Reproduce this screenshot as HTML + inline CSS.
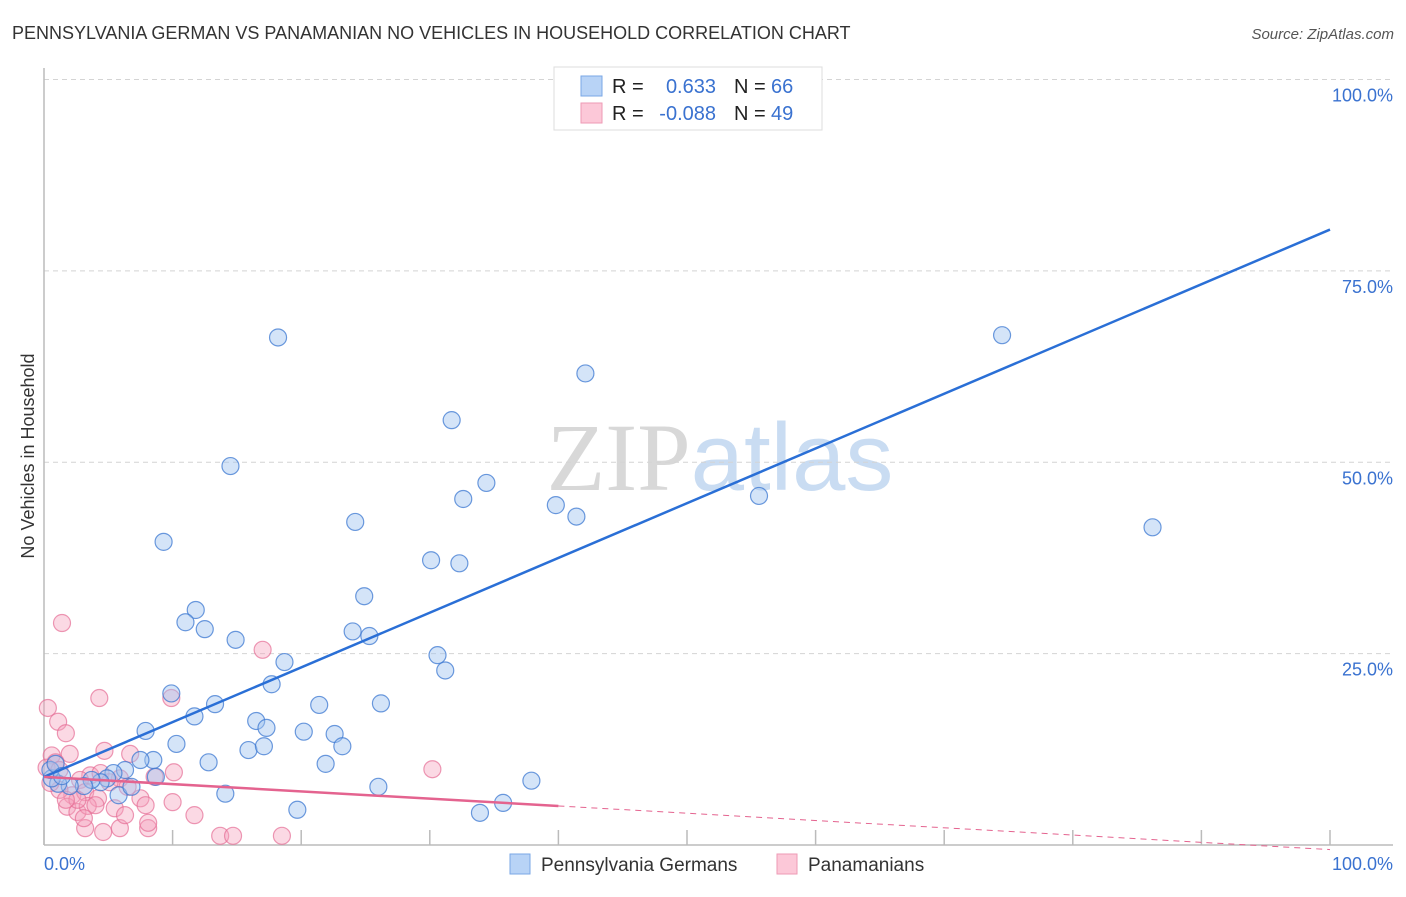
<!DOCTYPE html>
<html><head><meta charset="utf-8"><style>
body{margin:0;background:#fff;font-family:"Liberation Sans",sans-serif;}
svg text{font-family:"Liberation Sans",sans-serif;}
</style></head><body>
<svg id="chart" width="1406" height="892" xmlns="http://www.w3.org/2000/svg">
<text x="12" y="39" font-size="18" fill="#333">PENNSYLVANIA GERMAN VS PANAMANIAN NO VEHICLES IN HOUSEHOLD CORRELATION CHART</text>
<text x="1394" y="39" font-size="15" fill="#555" text-anchor="end" font-style="italic">Source: ZipAtlas.com</text>
<text x="720" y="490" font-size="96" text-anchor="middle"><tspan fill="#d8d8d8" font-family="Liberation Serif">ZIP</tspan><tspan fill="#c9dcf2">atlas</tspan></text>
<text transform="translate(34,456) rotate(-90)" font-size="18" fill="#333" text-anchor="middle">No Vehicles in Household</text>
<g id="grid"></g><g id="axes"></g><g id="pts"></g><g id="lines"></g>
<g>
<rect x="554" y="67" width="268" height="63" fill="#fff" stroke="#ddd"/>
<rect x="581" y="76" width="21" height="20" fill="#b8d3f6" stroke="#7aa7e6"/>
<rect x="581" y="103" width="21" height="20" fill="#fcc8d8" stroke="#ee9ab5"/>
<text x="612" y="93" font-size="20" fill="#222">R =</text>
<text x="716" y="93" font-size="20" fill="#3a72d0" text-anchor="end">0.633</text>
<text x="734" y="93" font-size="20" fill="#222">N =</text>
<text x="771" y="93" font-size="20" fill="#3a72d0">66</text>
<text x="612" y="120" font-size="20" fill="#222">R =</text>
<text x="716" y="120" font-size="20" fill="#3a72d0" text-anchor="end">-0.088</text>
<text x="734" y="120" font-size="20" fill="#222">N =</text>
<text x="771" y="120" font-size="20" fill="#3a72d0">49</text>
</g>
<g>
<rect x="510" y="854" width="20" height="20" fill="#b8d3f6" stroke="#7aa7e6"/>
<text x="541" y="871" font-size="19" fill="#333">Pennsylvania Germans</text>
<rect x="777" y="854" width="20" height="20" fill="#fcc8d8" stroke="#ee9ab5"/>
<text x="808" y="871" font-size="19" fill="#333">Panamanians</text>
</g>
</svg>
<script>
const blueX=[18.2,14.5,9.3,11.8,11.0,12.5,14.9,18.7,17.7,9.9,13.3,11.7,7.9,10.3,12.8,14.1,16.5,17.3,15.9,17.1,20.2,21.9,21.4,22.6,23.2,24.2,24.9,24.0,25.3,26.2,26.0,19.7,30.1,32.3,30.6,31.2,31.7,32.6,34.4,42.1,39.8,41.4,35.7,33.9,37.9,54.1,74.5,55.6,86.2,8.5,7.5,6.3,5.4,4.9,4.4,3.7,3.1,2.0,1.1,0.6,0.5,0.9,1.4,5.8,6.8,8.7];
const blueY=[66.3,49.5,39.6,30.7,29.1,28.2,26.8,23.9,21.0,19.8,18.4,16.8,14.9,13.2,10.8,6.7,16.2,15.3,12.4,12.9,14.8,10.6,18.3,14.5,12.9,42.2,32.5,27.9,27.3,18.5,7.6,4.6,37.2,36.8,24.8,22.8,55.5,45.2,47.3,61.6,44.4,42.9,5.5,4.2,8.4,99.9,66.6,45.6,41.5,11.1,11.1,9.8,9.4,8.7,8.2,8.5,7.7,7.7,8.0,8.7,9.8,10.6,9.0,6.5,7.6,8.9];
const pinkX=[1.4,4.3,9.9,17.0,0.3,1.1,1.7,4.7,2.0,6.7,0.6,0.9,0.2,1.2,3.6,5.9,4.4,2.8,5.1,8.6,10.1,30.2,2.2,3.2,4.2,1.8,2.6,3.4,4.0,6.5,7.5,7.9,10.0,5.9,8.1,11.7,3.2,4.6,3.1,13.7,14.7,18.5,1.2,5.5,2.6,8.1,0.5,1.7,6.3];
const pinkY=[29.0,19.2,19.2,25.5,17.9,16.1,14.6,12.3,11.9,11.9,11.7,10.8,10.1,9.8,9.1,8.7,9.4,8.5,8.2,8.9,9.5,9.9,6.5,6.9,6.1,5.0,4.3,5.1,5.2,7.6,6.1,5.2,5.6,2.2,2.2,3.9,2.2,1.7,3.5,1.2,1.2,1.2,7.2,4.8,5.9,2.9,8.1,5.9,3.9];
const yTicks=[25,50,75,100];
const yTickLabels=["25.0%","50.0%","75.0%","100.0%"];
const xTicks=[0,10,20,30,40,50,60,70,80,90,100];
const blueTrend=[8.9,80.4];
const pinkTrend=[8.9,-0.6];
const pinkSolidEnd=40;
const NS="http://www.w3.org/2000/svg";
const X0=44,X1=1330,YB=845,YT=79.5;
const sx=v=>X0+(X1-X0)*v/100, sy=v=>YB-(YB-YT)*v/100;
function mk(tag,attrs,parent){const e=document.createElementNS(NS,tag);for(const k in attrs)e.setAttribute(k,attrs[k]);document.getElementById(parent).appendChild(e);return e;}
yTicks.forEach((t,i)=>{
 const g=mk('line',{x1:X0,x2:1393,y1:sy(t),y2:sy(t),stroke:'#d4d4d4','stroke-dasharray':'5,4'},'grid');
 
 
 const l=mk('text',{x:1393,y:sy(t)+22,'font-size':18,fill:'#3a72d0','text-anchor':'end'},'grid');
 
 
 l.textContent=yTickLabels[i];
});
let a=mk('line',{x1:X0,x2:X0,y1:68,y2:YB,stroke:'#bbb','stroke-width':1.5},'axes');


a=mk('line',{x1:X0,x2:1393,y1:YB,y2:YB,stroke:'#bbb','stroke-width':1.5},'axes');


xTicks.forEach(t=>{const e=mk('line',{x1:sx(t),x2:sx(t),y1:YB,y2:YB-15,stroke:'#bbb','stroke-width':1.5},'axes');
 
 });
let xl=mk('text',{x:44,y:870,'font-size':18,fill:'#3a72d0'},'axes');


xl.textContent='0.0%';
xl=mk('text',{x:1393,y:870,'font-size':18,fill:'#3a72d0','text-anchor':'end'},'axes');


xl.textContent='100.0%';
pinkX.forEach((v,i)=>{const c=mk('circle',{cx:sx(v),cy:sy(pinkY[i]),r:8.5,fill:'rgba(245,160,188,0.4)',stroke:'rgba(230,110,150,0.7)','stroke-width':1.2},'pts');
 
 });
blueX.forEach((v,i)=>{const c=mk('circle',{cx:sx(v),cy:sy(blueY[i]),r:8.5,fill:'rgba(160,195,240,0.45)',stroke:'rgba(60,120,210,0.75)','stroke-width':1.2},'pts');
 
 });
let ln=mk('line',{x1:sx(0),y1:sy(blueTrend[0]),x2:sx(100),y2:sy(blueTrend[1]),stroke:'#2a6fd6','stroke-width':2.5},'lines');


const pAt=v=>pinkTrend[0]+(pinkTrend[1]-pinkTrend[0])*v/100;
ln=mk('line',{x1:sx(0),y1:sy(pinkTrend[0]),x2:sx(pinkSolidEnd),y2:sy(pAt(pinkSolidEnd)),stroke:'#e4638f','stroke-width':2.5},'lines');


ln=mk('line',{x1:sx(pinkSolidEnd),y1:sy(pAt(pinkSolidEnd)),x2:sx(100),y2:sy(pAt(100)),stroke:'#e4638f','stroke-width':1,'stroke-dasharray':'6,5'},'lines');


</script>
</body></html>
